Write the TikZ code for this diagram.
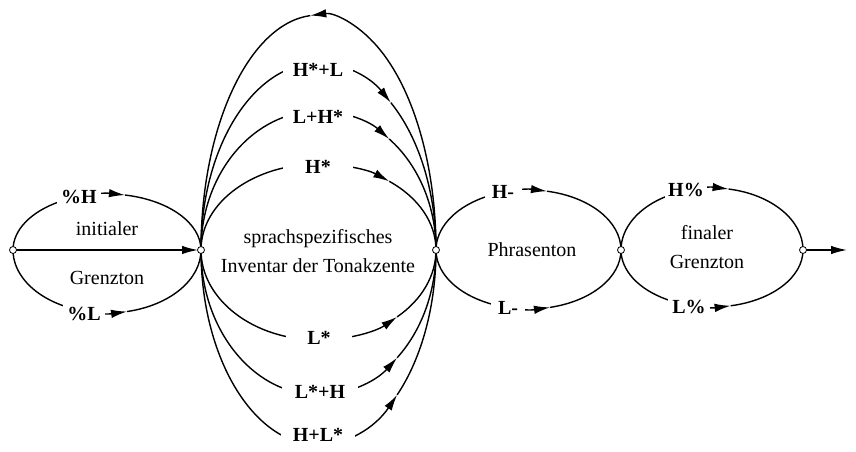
\documentclass[tikz,border=0pt]{standalone}
\usepackage{fontspec}
\setmainfont{Liberation Serif}
\usetikzlibrary{arrows.meta}
\begin{document}
\begin{tikzpicture}[x=1pt,y=1pt,
  ln/.style={line width=1.4pt},
  tipend/.style={-{Latex[length=16pt,width=8.5pt]}},
  lab/.style={fill=white, inner xsep=0pt, inner ysep=2pt, minimum height=24pt,
    font=\fontsize{20}{24}\selectfont\bfseries},
  txt/.style={font=\fontsize{20}{29}\selectfont, align=center},
  dot/.style={circle, draw, fill=white, line width=0.8pt, inner sep=0pt, minimum size=7pt}]
\useasboundingbox[fill=white] (0,0) rectangle (856,452);
\coordinate (n0) at (13,202);
\coordinate (n1) at (201,202);
\coordinate (n2) at (436,202);
\coordinate (n3) at (621,202);
\coordinate (n4) at (803,202);
\coordinate (out) at (847,202);
% initial boundary tone
\draw[ln,tipend] (n0) arc[start angle=180,end angle=79,x radius=94,y radius=56];
\draw[ln] (n1) arc[start angle=0,end angle=79,x radius=94,y radius=56];
\draw[ln,tipend] (n0) arc[start angle=180,end angle=282.3,x radius=94,y radius=63];
\draw[ln] (n1) arc[start angle=360,end angle=282.3,x radius=94,y radius=63];
\draw[ln,tipend,shorten >=3pt] (n0) -- (n1);
% pitch accents
\draw[ln,tipend] (n2) arc[start angle=0,end angle=94,x radius=117.5,y radius=235];
\draw[ln] (n1) arc[start angle=180,end angle=94,x radius=117.5,y radius=235];
\draw[ln,tipend] (n1) arc[start angle=180,end angle=52,x radius=117.5,y radius=187];
\draw[ln] (n2) arc[start angle=0,end angle=52,x radius=117.5,y radius=187];
\draw[ln,tipend] (n1) arc[start angle=180,end angle=53,x radius=117.5,y radius=139];
\draw[ln] (n2) arc[start angle=0,end angle=53,x radius=117.5,y radius=139];
\draw[ln,tipend] (n1) arc[start angle=180,end angle=53,x radius=117.5,y radius=86];
\draw[ln] (n2) arc[start angle=0,end angle=53,x radius=117.5,y radius=86];
\draw[ln,tipend] (n1) arc[start angle=180,end angle=312,x radius=117.5,y radius=90];
\draw[ln] (n2) arc[start angle=360,end angle=312,x radius=117.5,y radius=90];
\draw[ln,tipend] (n1) arc[start angle=180,end angle=312,x radius=117.5,y radius=145];
\draw[ln] (n2) arc[start angle=360,end angle=312,x radius=117.5,y radius=145];
\draw[ln,tipend] (n1) arc[start angle=180,end angle=312,x radius=117.5,y radius=195];
\draw[ln] (n2) arc[start angle=360,end angle=312,x radius=117.5,y radius=195];
% phrase accent
\draw[ln,tipend] (n2) arc[start angle=180,end angle=78.5,x radius=92.5,y radius=60];
\draw[ln] (n3) arc[start angle=0,end angle=78.5,x radius=92.5,y radius=60];
\draw[ln,tipend] (n2) arc[start angle=180,end angle=283.4,x radius=92.5,y radius=59];
\draw[ln] (n3) arc[start angle=360,end angle=283.4,x radius=92.5,y radius=59];
% final boundary tone
\draw[ln,tipend] (n3) arc[start angle=180,end angle=79.5,x radius=91,y radius=62];
\draw[ln] (n4) arc[start angle=0,end angle=79.5,x radius=91,y radius=62];
\draw[ln,tipend] (n3) arc[start angle=180,end angle=281.8,x radius=91,y radius=57];
\draw[ln] (n4) arc[start angle=360,end angle=281.8,x radius=91,y radius=57];
\draw[ln,tipend] (n4) -- (out);
% labels
\node[lab,minimum width=44pt] (pH) at (79,255) {\%H};
\node[lab,minimum width=42pt] (pL) at (84,138) {\%L};
\node[lab,minimum width=70pt] (aHL) at (318,382) {H*+L};
\node[lab,minimum width=70pt] (aLH) at (318,335) {L+H*};
\node[lab,minimum width=70pt] (aH) at (318,285) {H*};
\node[lab,minimum width=66pt] (aL) at (319,114) {L*};
\node[lab,minimum width=76pt] (aLsH) at (320,60) {L*+H};
\node[lab,minimum width=74pt] (aHLs) at (318,17) {H+L*};
\node[lab,minimum width=37pt] (hm) at (503,260) {H-};
\node[lab,minimum width=34pt] (lm) at (508,144) {L-};
\node[lab,minimum width=42pt] (hp) at (686,262) {H\%};
\node[lab,minimum width=42pt] (lp) at (689,145) {L\%};
% texts
\node[txt] (t1) at (107,223) {initialer};
\node[txt] (t2) at (107,174) {Grenzton};
\node[txt] (t3) at (318,201) {sprachspezifisches\\Inventar der Tonakzente};
\node[txt] (t4) at (532,202) {Phrasenton};
\node[txt] (t5) at (707,205) {finaler\\Grenzton};
% states
\node[dot] (d0) at (n0) {};
\node[dot] (d1) at (n1) {};
\node[dot] (d2) at (n2) {};
\node[dot] (d3) at (n3) {};
\node[dot] (d4) at (n4) {};
\end{tikzpicture}
\end{document}
